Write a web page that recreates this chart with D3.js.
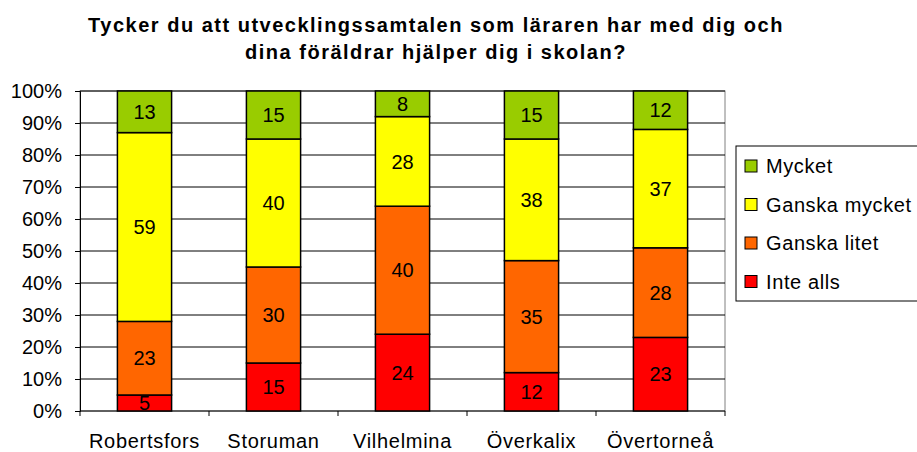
<!DOCTYPE html>
<html>
<head>
<meta charset="utf-8">
<script src="https://cdn.jsdelivr.net/npm/d3@7"></script>
<style>
  body { margin: 0; background: #fff; }
  svg text { font-family: "Liberation Sans", Arial, sans-serif; fill: #000; }
</style>
</head>
<body>
<svg></svg>
<script>
const width = 917,
  height = 452;

// data
const kommuner = ["Robertsfors", "Storuman", "Vilhelmina", "Överkalix", "Övertorneå"];
const series = ["Inte alls", "Ganska litet", "Ganska mycket", "Mycket"];
const inteAlls = [5, 15, 24, 12, 23];
const ganskaLitet = [23, 30, 40, 35, 28];
const ganskaMycket = [59, 40, 28, 38, 37];
const mycket = [13, 15, 8, 15, 12];
const yTicks = [0, 10, 20, 30, 40, 50, 60, 70, 80, 90, 100];
const colors = ["#FF0000", "#FF6600", "#FFFF00", "#99CC00"];

const rows = kommuner.map((k, i) => ({
  kommun: k,
  "Inte alls": inteAlls[i],
  "Ganska litet": ganskaLitet[i],
  "Ganska mycket": ganskaMycket[i],
  "Mycket": mycket[i]
}));

const margin = { top: 91, left: 80, right: 192, bottom: 41 };
const plotW = width - margin.left - margin.right;
const plotH = height - margin.top - margin.bottom;

const svg = d3.select("svg").attr("width", width).attr("height", height);

// title
const title = svg.append("text")
  .attr("text-anchor", "middle")
  .style("font-size", "20px")
  .style("font-weight", "bold")
  .style("letter-spacing", "1.5px");
title.append("tspan").attr("x", 436).attr("y", 32)
  .text("Tycker du att utvecklingssamtalen som läraren har med dig och");
title.append("tspan").attr("x", 436).attr("y", 59)
  .text("dina föräldrar hjälper dig i skolan?");

const g = svg.append("g").attr("transform", "translate(" + margin.left + "," + margin.top + ")");

const x = d3.scaleBand().domain(kommuner).range([0, plotW]).paddingInner(0.58).paddingOuter(0.29);
const xCat = d3.scaleBand().domain(kommuner).range([0, plotW]);
const y = d3.scaleLinear().domain([0, 100]).range([plotH, 0]);

// plot frame (gray)
g.append("rect")
  .attr("width", plotW).attr("height", plotH)
  .attr("fill", "none").attr("stroke", "#808080").attr("stroke-width", 1);

// gridlines
g.selectAll(".grid").data(yTicks.slice(1)).enter().append("line")
  .attr("x1", 0).attr("x2", plotW)
  .attr("y1", d => y(d)).attr("y2", d => y(d))
  .attr("stroke", "#000").attr("stroke-width", 1);

// y axis
const yAxis = g.append("g")
  .call(d3.axisLeft(y).tickValues(yTicks).tickFormat(d => d + "%").tickSize(5).tickPadding(13));
yAxis.select(".domain").attr("stroke", "#000");
yAxis.selectAll("text").style("font-size", "20px");

// x axis with ticks between categories
const xAxis = g.append("g").attr("transform", "translate(0," + plotH + ")");
xAxis.append("line").attr("x1", 0).attr("x2", plotW).attr("stroke", "#000");
xAxis.selectAll(".xt").data(d3.range(kommuner.length + 1)).enter().append("line")
  .attr("x1", i => i * xCat.step()).attr("x2", i => i * xCat.step())
  .attr("y1", 0).attr("y2", 5).attr("stroke", "#000");
xAxis.selectAll(".xl").data(kommuner).enter().append("text")
  .attr("x", d => xCat(d) + xCat.bandwidth() / 2)
  .attr("y", 37)
  .attr("text-anchor", "middle")
  .style("font-size", "20px")
  .style("letter-spacing", "0.7px")
  .text(d => d);

// stacked bars
const stacked = d3.stack().keys(series)(rows);

const layer = g.selectAll(".layer").data(stacked).enter().append("g")
  .attr("fill", (d, i) => colors[i]);

layer.selectAll("rect").data(d => d).enter().append("rect")
  .attr("x", d => x(d.data.kommun))
  .attr("y", d => y(d[1]))
  .attr("width", x.bandwidth())
  .attr("height", d => y(d[0]) - y(d[1]))
  .attr("stroke", "#000").attr("stroke-width", 1.5);

layer.selectAll("text").data(d => d).enter().append("text")
  .attr("x", d => x(d.data.kommun) + x.bandwidth() / 2)
  .attr("y", d => (y(d[0]) + y(d[1])) / 2)
  .attr("dy", "0.36em")
  .attr("text-anchor", "middle")
  .style("font-size", "20px")
  .text(d => d[1] - d[0]);

// legend
const legend = svg.append("g").attr("transform", "translate(736,146)");
legend.append("rect").attr("width", 185).attr("height", 155)
  .attr("fill", "#fff").attr("stroke", "#000").attr("stroke-width", 1);

const legendOrder = series.slice().reverse();
const item = legend.selectAll(".item").data(legendOrder).enter().append("g")
  .attr("transform", (d, i) => "translate(9," + (19 + i * 38.5) + ")");
item.append("rect")
  .attr("x", 0).attr("y", -5).attr("width", 12).attr("height", 12)
  .attr("fill", d => colors[series.indexOf(d)])
  .attr("stroke", "#000").attr("stroke-width", 1);
item.append("text")
  .attr("x", 21).attr("y", 1).attr("dy", "0.36em")
  .style("font-size", "20px")
  .style("letter-spacing", "0.6px")
  .text(d => d);
</script>
</body>
</html>
